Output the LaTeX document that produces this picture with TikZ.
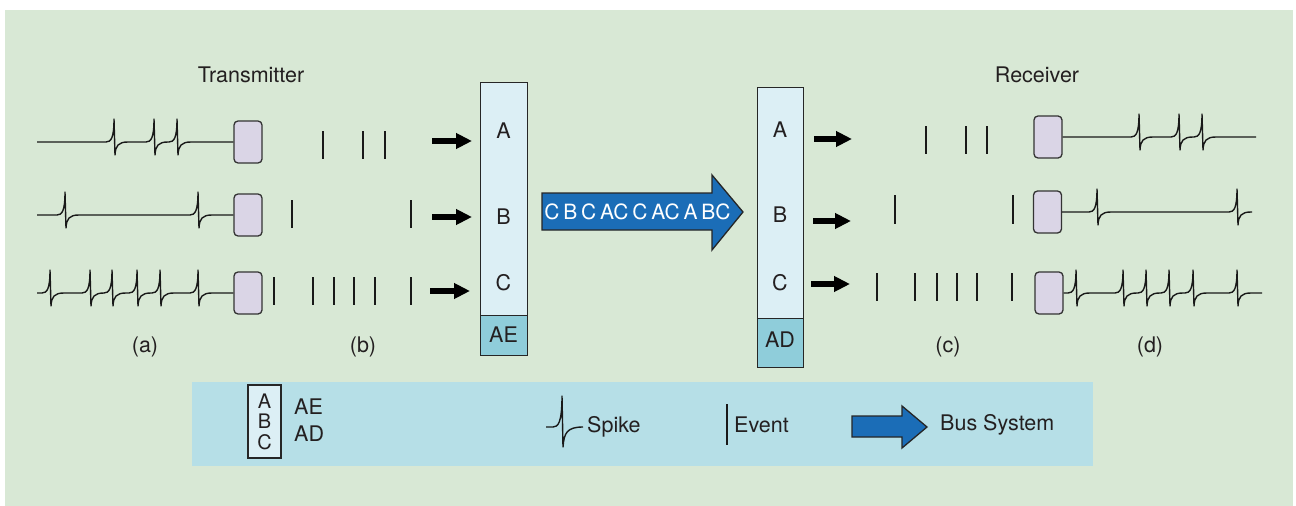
\documentclass[tikz,border=0pt]{standalone}
\usepackage{fontspec}
\setmainfont{TeX Gyre Heros}
\usetikzlibrary{arrows.meta}
\definecolor{bg}{HTML}{D8E8D5}
\definecolor{legbg}{HTML}{B6DFE7}
\definecolor{barlt}{HTML}{DCEFF5}
\definecolor{cellbl}{HTML}{8FCDDA}
\definecolor{lav}{HTML}{DAD5E6}
\definecolor{busblue}{HTML}{1B6DB7}
\definecolor{txt}{HTML}{231F20}
\newcommand{\sptrain}[4]{%
  \draw[spk] #1 \foreach \s in {#3}{ -- (\s-8,#2) .. controls (\s-3,#2) and (\s,#2-4) .. (\s,#2-23) -- (\s+1,#2+13) .. controls (\s+1.5,#2+4) and (\s+4,#2) .. (\s+14,#2)} -- #4;}
\newcommand{\evrow}[3]{%
  \foreach \e in {#1}{\draw[ev] (\e,#2) -- (\e,#3);}}
\begin{document}
\begin{tikzpicture}[x=1pt,y=-1pt,
  lbl/.style={font=\fontsize{21.5}{24}\selectfont, text=txt, inner sep=0pt},
  barbox/.style={draw=black!85, line width=1.4pt, fill=barlt, inner sep=0pt, anchor=north west},
  cellbox/.style={barbox, fill=cellbl},
  neuron/.style={draw=black!80, line width=1.3pt, fill=lav, rounded corners=4pt, inner sep=0pt, minimum width=28pt, minimum height=42pt},
  spk/.style={line width=1.4pt, black!90, line join=round},
  ev/.style={line width=1.4pt, black!90},
  fat/.style={line width=6pt, -{Triangle[length=16pt,width=15pt]}},
  busarrow/.style={fill=busblue, draw=black!85, line width=1.3pt, line join=miter},
]
\useasboundingbox (0,0) rectangle (1296,506);
\fill[white] (0,0) rectangle (1296,506);
\fill[bg] (5,10) rectangle (1293,506);

% titles and labels
\node[lbl] (ttx) at (251,75) {Transmitter};
\node[lbl] (trx) at (1037,75) {Receiver};
\node[lbl] (la) at (145,347) {(a)};
\node[lbl] (lb) at (363,347) {(b)};
\node[lbl] (lc) at (948,347) {(c)};
\node[lbl] (ld) at (1150,347) {(d)};

% bars
\node[barbox, minimum width=47pt, minimum height=233pt] (tbar) at (480,82) {};
\node[cellbox, minimum width=47pt, minimum height=40pt] (tcell) at (480,315) {};
\node[lbl] (tA) at (503.5,131) {A};
\node[lbl] (tB) at (503.5,217) {B};
\node[lbl] (tC) at (503.5,283) {C};
\node[lbl] (tAE) at (503.5,335) {AE};

\node[barbox, minimum width=46pt, minimum height=231pt] (rbar) at (757,87) {};
\node[cellbox, minimum width=46pt, minimum height=49pt] (rcell) at (757,318) {};
\node[lbl] (rA) at (780,130) {A};
\node[lbl] (rB) at (780,215) {B};
\node[lbl] (rC) at (780,283) {C};
\node[lbl] (rAD) at (780,340) {AD};

% bus arrow
\draw[busarrow] (542,193) -- (712,193) -- (712,175) -- (743,212) -- (712,250) -- (712,230) -- (542,230) -- cycle;
\node[text=white, inner sep=0pt, font=\fontsize{21}{24}\selectfont] (bustext) at (637.5,212) {\spaceskip=3.8pt\relax C B C AC C AC A BC};

% neurons
\node[neuron] (tn1) at (248,142) {};
\node[neuron] (tn2) at (248,215) {};
\node[neuron] (tn3) at (248,293) {};
\node[neuron] (rn1) at (1048,137) {};
\node[neuron] (rn2) at (1047.5,212) {};
\node[neuron] (rn3) at (1049,293) {};

% spike trains
\sptrain{(37,142)}{142}{114,154,177}{(tn1.west)}
\sptrain{(37,215)}{215}{65,198}{(tn2.west)}
\sptrain{(37,293)}{293}{50,90,112,137,160,198}{(tn3.west)}
\sptrain{(rn1.east)}{137}{1139,1179,1202}{(1256,137)}
\sptrain{(rn2.east)}{212}{1097,1237}{(1252,212)}
\sptrain{(rn3.east)}{293}{1076,1123,1146,1169,1193,1237}{(1262,293)}

% events
\evrow{323,363,385}{131}{159}
\evrow{292,411}{200}{228}
\evrow{274,313,334,354,375,411}{277}{305}
\evrow{926,966,987}{126}{154}
\evrow{895,1013}{195}{224}
\evrow{877,915,937,957,977,1012}{273}{301}

% arrows into / out of bars
\coordinate (ta1) at (432,141);
\coordinate (ta2) at (432,217);
\coordinate (ta3) at (430,291);
\draw[fat, shorten >=8pt] (ta1) -- (ta1 -| tbar.west);
\draw[fat, shorten >=8pt] (ta2) -- (ta2 -| tbar.west);
\draw[fat, shorten >=10pt] (ta3) -- (ta3 -| tbar.west);
\coordinate (ra1) at (852,139);
\coordinate (ra2) at (851,221);
\coordinate (ra3) at (850,284);
\draw[fat, shorten <=10pt] (ra1 -| rbar.east) -- (ra1);
\draw[fat, shorten <=9pt] (ra2 -| rbar.east) -- (ra2);
\draw[fat, shorten <=7pt] (ra3 -| rbar.east) -- (ra3);

% legend
\fill[legbg] (192,382) rectangle (1093,466);
\node[draw=black!85, line width=1.2pt, fill=barlt, inner sep=0pt, minimum width=33pt, minimum height=73pt, align=center, font=\fontsize{20}{20.5}\selectfont, text=txt] (legabc) at (264.5,421.5) {A\\B\\C};
\node[lbl, anchor=west] (legAE) at (294,407) {AE};
\node[lbl, anchor=west] (legAD) at (294,434) {AD};
\draw[spk] (546,427) -- (553,427) .. controls (558,427) and (562,423) .. (562,396) -- (563,447) .. controls (564,433) and (567,427) .. (583,427);
\node[lbl, anchor=west] (legspike) at (587,427) {Spike};
\draw[ev] (727,404) -- (727,445);
\node[lbl, anchor=west] (legevent) at (734,425) {Event};
\draw[busarrow] (852,416) -- (902,416) -- (902,406) -- (927,427) -- (902,448) -- (902,437) -- (852,437) -- cycle;
\node[lbl, anchor=west] (legbus) at (940,425) {Bus System};
\end{tikzpicture}
\end{document}
